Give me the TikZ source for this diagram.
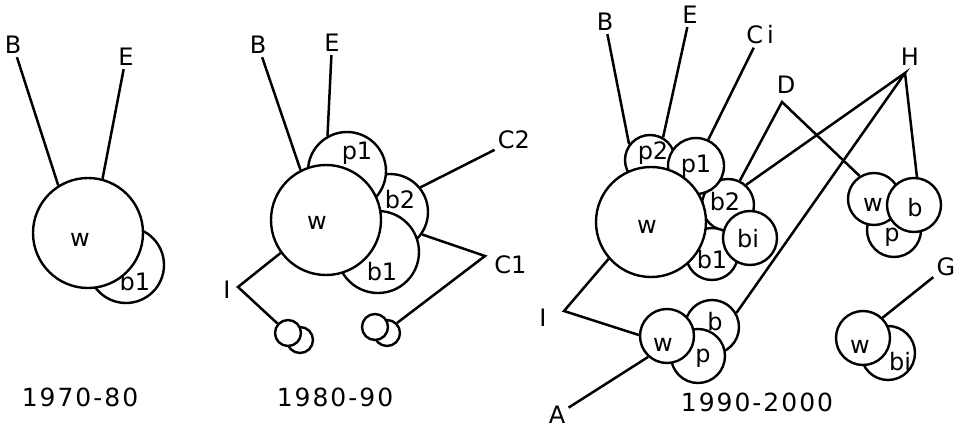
\documentclass[tikz,border=0pt]{standalone}
\usepackage{fontspec}
\setmainfont{DejaVu Sans}
\newfontfamily\yearfont[LetterSpace=8]{DejaVu Sans}
\tikzset{
  cell/.style={circle,draw=black,fill=white,line width=1.2pt,inner sep=0pt},
  tag/.style={font=\fontsize{12}{14}\selectfont,inner sep=1.5pt},
  link/.style={line width=1.25pt},
  year/.style={font=\yearfont\fontsize{12.5}{15}\selectfont}
}
\begin{document}
\begin{tikzpicture}[x=0.5pt,y=-0.5pt]
\useasboundingbox (0,0) rectangle (954,428);
% 1970-80
\node[cell,minimum size=38pt,label={[tag,xshift=4.5pt,yshift=-8.5pt]center:b1}] (b1a) at (126,265) {};
\node[cell,minimum size=55pt,label={[tag,xshift=-4pt,yshift=-3.5pt]center:w}] (w1) at (88,233) {};
\node[tag] (B1) at (13,45) {B};
\node[tag] (E1) at (126,57) {E};
\draw[link] (B1) -- (w1.122);\draw[link] (E1) -- (w1.75);
\node[year] (y1) at (80,397) {1970-80};
% 1980-90
\node[cell,minimum size=38pt,label={[tag,xshift=5pt,yshift=6pt]center:b2}] (b2b) at (390,212) {};
\node[cell,minimum size=41pt,label={[tag,xshift=2pt,yshift=-10pt]center:b1}] (b1b) at (378,252) {};
\node[cell,minimum size=39pt,label={[tag,xshift=5pt,yshift=9pt]center:p1}] (p1b) at (347,171) {};
\node[cell,minimum size=55pt,label={[tag,xshift=-4.5pt,yshift=-1.5pt]center:w}] (w2) at (326,220) {};
\node[cell,minimum size=13pt] (s2) at (300,340) {};
\node[cell,minimum size=13pt] (s1) at (288,333) {};
\node[cell,minimum size=13pt] (s4) at (387,333) {};
\node[cell,minimum size=13pt] (s3) at (375,327) {};
\node[tag] (B2) at (258,45) {B};
\node[tag] (E2) at (332,43) {E};
\node[tag] (C2) at (514,140) {C2};
\coordinate (C1) at (485,256);
\node[tag,anchor=west] (C1t) at (491,265) {C1};
\coordinate (I2) at (238,287);
\node[tag] (I2t) at (227,290) {I};
\draw[link] (B2) -- (w2.117);\draw[link] (E2) -- (p1b.119);
\draw[link] (C2) -- (b2b.39);
\draw[link] (b2b.-35) -- (C1) -- (s4.45);
\draw[link] (w2.216) -- (I2) -- (s1.138);
\node[year] (y2) at (335,397) {1980-90};
% 1990-2000
\node[cell,minimum size=26pt,label={[tag,xshift=-1.5pt,yshift=1.5pt]center:b2}] (b2c) at (728,205) {};
\node[cell,minimum size=26pt,label={[tag,yshift=-3pt]center:b1}] (b1c) at (712,254) {};
\node[cell,minimum size=27pt,label={[tag,xshift=-1pt,yshift=-0.5pt]center:bi}] (bic) at (750,238) {};
\node[cell,minimum size=25pt,label={[tag,xshift=1.5pt,yshift=3.5pt]center:p2}] (p2c) at (650,160) {};
\node[cell,minimum size=28pt,label={[tag]center:p1}] (p1c) at (696,166) {};
\node[cell,minimum size=55pt,label={[tag,xshift=-2pt,yshift=-2.5pt]center:w}] (w3) at (651,222) {};
% right group
\node[cell,minimum size=27pt,label={[tag,xshift=-1pt,yshift=-3.5pt]center:p}] (p3) at (894,230) {};
\node[cell,minimum size=26pt,label={[tag,xshift=-0.5pt,yshift=-3pt]center:w}] (w4) at (874,199) {};
\node[cell,minimum size=27pt,label={[tag,xshift=0.5pt,yshift=-1.5pt]center:b}] (b3) at (914,205) {};
% lower group
\node[cell,minimum size=27pt,label={[tag,xshift=1.5pt,yshift=2.5pt]center:b}] (b4) at (712,327) {};
\node[cell,minimum size=27pt,label={[tag,xshift=2.5pt,yshift=-1pt]center:p}] (p4) at (698,356) {};
\node[cell,minimum size=27pt,label={[tag,xshift=-2pt,yshift=-4.5pt]center:w}] (w5) at (667,336) {};
% G group
\node[cell,minimum size=27pt,label={[tag,xshift=6pt,yshift=-4.5pt]center:bi}] (bi2) at (888,353) {};
\node[cell,minimum size=27pt,label={[tag,xshift=-1.5pt,yshift=-4.5pt]center:w}] (w6) at (863,338) {};
\node[tag] (B3) at (605,22) {B};
\node[tag] (E3) at (690,15) {E};
\node[tag] (Ci) at (760,35) {C\,i};
\coordinate (D3) at (782,102);
\node[tag] (D3t) at (786,85) {D};
\coordinate (H3) at (905,73);
\node[tag] (H3t) at (910,57) {H};
\coordinate (I3) at (564,311);
\node[tag] (I3t) at (543,318) {I};
\node[tag] (A3) at (557,415) {A};
\node[tag] (G3) at (946,267) {G};
\draw[link] (B3) -- (p2c.143);\draw[link] (E3) -- (p2c.60);
\draw[link] (Ci) -- (p1c.65);
\draw[link] (b2c.64) -- (D3) -- (w4.122);
\draw[link] (b2c.48) -- (H3) -- (b4.30);\draw[link] (H3) -- (b3.84);
\draw[link] (w3.221) -- (I3) -- (w5.178);
\draw[link] (A3) -- (w5.228);
\draw[link] (G3) -- (w6.46);
\node[year] (y3) at (757,402) {1990-2000};
\end{tikzpicture}
\end{document}
